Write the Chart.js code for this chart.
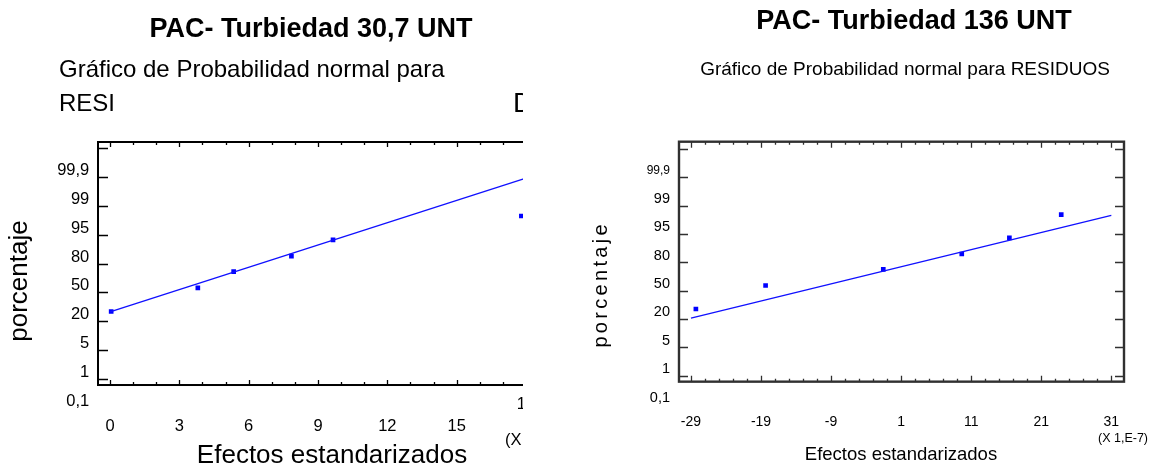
<!DOCTYPE html>
<html>
<head>
<meta charset="utf-8">
<script src="https://cdn.jsdelivr.net/npm/chart.js@4.4.1/dist/chart.umd.min.js"></script>
<style>
  html, body { margin: 0; padding: 0; background: #fff; }
  body { width: 1158px; height: 467px; position: relative; overflow: hidden; }
  #left-clip { position: absolute; left: 0; top: 0; width: 523px; height: 467px; overflow: hidden; }
  #left-box { position: absolute; left: 0; top: 0; width: 560px; height: 467px; }
  #right-box { position: absolute; left: 580px; top: 0; width: 578px; height: 467px; }
</style>
</head>
<body>
<div id="left-clip"><div id="left-box"><canvas id="left-chart"></canvas></div></div>
<div id="right-box"><canvas id="right-chart"></canvas></div>
<script>
// probability axis: the levels are evenly spaced, a position is the index in this list
const probLabels = ["0,1", "1", "5", "20", "50", "80", "95", "99", "99,9"];

// PAC- Turbiedad 30,7 UNT
const leftEffects = [0.05, 3.8, 5.35, 7.85, 9.65, 17.8];
const leftProb = [3.34, 4.16, 4.72, 5.26, 5.82, 6.65];
const leftFitX = [0, 18];
const leftFitY = [3.33, 7.96];
const leftXTicks = [0, 3, 6, 9, 12, 15, 18];

// PAC- Turbiedad 136 UNT (effects x 1,E-7)
const rightEffects = [-28.3, -18.35, -1.55, 9.65, 16.45, 23.85];
const rightProb = [3.35, 4.18, 4.75, 5.29, 5.86, 6.68];
const rightFitX = [-29, 31];
const rightFitY = [3.03, 6.65];
const rightXTicks = [-29, -19, -9, 1, 11, 21, 31];

const FONT = "'Liberation Sans', Arial, sans-serif";
Chart.defaults.font.family = FONT;
Chart.defaults.color = "#000";

function toPoints(xs, ys) {
  return xs.map((x, i) => ({ x: x, y: ys[i] }));
}

// statgraphics style box with inward ticks
function framePlugin(o) {
  return {
    id: "frame",
    afterDatasetsDraw(chart) {
      const { ctx, chartArea: a, scales: { x, y } } = chart;
      const bottom = y.getPixelForValue(o.bottom);
      ctx.save();
      ctx.strokeStyle = o.color;
      ctx.lineWidth = o.width;
      ctx.strokeRect(a.left, a.top, a.right - a.left, bottom - a.top);
      ctx.lineWidth = o.tickWidth;
      ctx.beginPath();
      for (let k = 1; k <= 9; k++) {
        const py = Math.round(y.getPixelForValue(k)) + 0.5;
        ctx.moveTo(a.left, py); ctx.lineTo(a.left + o.yTick, py);
        ctx.moveTo(a.right, py); ctx.lineTo(a.right - o.yTick, py);
      }
      const every = Math.round(o.xMajor / o.xStep);
      for (let i = 0; o.xFrom + i * o.xStep <= o.xTo + 1e-9; i++) {
        const px = Math.round(x.getPixelForValue(o.xFrom + i * o.xStep)) + 0.5;
        const len = i % every === 0 ? o.majorTick : o.minorTick;
        ctx.moveTo(px, a.top); ctx.lineTo(px, a.top + len);
        ctx.moveTo(px, bottom); ctx.lineTo(px, bottom - len);
      }
      ctx.stroke();
      ctx.restore();
    }
  };
}

function textPlugin(items) {
  return {
    id: "texts",
    afterDraw(chart) {
      const ctx = chart.ctx;
      items.forEach(t => {
        const px = t.xv !== undefined ? chart.scales.x.getPixelForValue(t.xv) : t.x;
        ctx.save();
        ctx.font = t.font;
        ctx.fillStyle = "#000";
        ctx.textBaseline = t.base || "alphabetic";
        ctx.translate(px, t.y);
        if (t.rot) ctx.rotate(t.rot);
        if (t.spacing) {
          const chars = t.text.split("");
          const widths = chars.map(c => ctx.measureText(c).width);
          const total = widths.reduce((s, w) => s + w, 0) + t.spacing * (chars.length - 1);
          let cx = -total / 2;
          ctx.textAlign = "left";
          chars.forEach((c, i) => { ctx.fillText(c, cx, 0); cx += widths[i] + t.spacing; });
        } else {
          ctx.textAlign = t.align || "center";
          ctx.fillText(t.text, 0, 0);
        }
        ctx.restore();
      });
    }
  };
}

function makeChart(id, cfg) {
  return new Chart(document.getElementById(id), {
    type: "scatter",
    data: {
      datasets: [
        {
          label: "ajuste",
          data: toPoints(cfg.fitX, cfg.fitY),
          showLine: true,
          borderColor: "#1010ff",
          borderWidth: 1.3,
          pointRadius: 0,
          fill: false
        },
        {
          label: "residuos",
          data: toPoints(cfg.xs, cfg.ys),
          pointStyle: "rect",
          pointRadius: 3.3,
          backgroundColor: "#0000ff",
          borderWidth: 0
        }
      ]
    },
    options: {
      responsive: true,
      maintainAspectRatio: false,
      animation: false,
      events: [],
      layout: { padding: { top: cfg.top, right: cfg.right, bottom: 0, left: 0 } },
      plugins: { legend: { display: false }, tooltip: { enabled: false } },
      scales: {
        x: {
          type: "linear",
          position: "bottom",
          min: cfg.xMin,
          max: cfg.xMax,
          afterBuildTicks: s => { s.ticks = cfg.xTicks.map(v => ({ value: v })); },
          afterFit: s => { s.height = cfg.xHeight; },
          grid: { display: false, drawTicks: false },
          border: { display: false },
          ticks: {
            autoSkip: false,
            maxRotation: 0,
            padding: cfg.xPad,
            font: { size: cfg.xFont },
            callback: v => (cfg.hideX && cfg.hideX.includes(v) ? "" : String(v))
          }
        },
        y: {
          type: "linear",
          position: "left",
          min: 0,
          max: cfg.yMax,
          afterBuildTicks: s => { s.ticks = probLabels.map((_, i) => ({ value: i })); },
          afterFit: s => { s.width = cfg.yWidth; },
          grid: { display: false, drawTicks: false },
          border: { display: false },
          ticks: {
            autoSkip: false,
            labelOffset: -6.5,
            padding: cfg.yPad,
            font: cfg.yFont,
            callback: v => probLabels[v]
          }
        }
      }
    },
    plugins: [framePlugin(cfg.frame), textPlugin(cfg.texts)]
  });
}

makeChart("left-chart", {
  xs: leftEffects, ys: leftProb, fitX: leftFitX, fitY: leftFitY,
  xTicks: leftXTicks, hideX: [18],
  xMin: -0.52, xMax: 18.52, yMax: 9.216,
  top: 142, right: 22, yWidth: 98, xHeight: 59.2,
  xPad: 8.3, xFont: 16.5, yPad: 8.7, yFont: { size: 16.5 },
  frame: { bottom: 0.79, color: "#000", width: 2, tickWidth: 1.3, yTick: 10,
           xFrom: 0, xTo: 18, xStep: 1, xMajor: 3, majorTick: 5, minorTick: 3 },
  texts: [
    { text: "PAC- Turbiedad 30,7 UNT", font: "bold 27px " + FONT, x: 311, y: 36.5 },
    { text: "Gráfico de Probabilidad normal para", font: "24px " + FONT, x: 59, y: 77, align: "left" },
    { text: "RESI", font: "24px " + FONT, x: 59, y: 111, align: "left" },
    { text: "D", font: "28px " + FONT, x: 513, y: 112, align: "left" },
    { text: "porcentaje", font: "26px " + FONT, x: 26.7, y: 281, rot: -Math.PI / 2 },
    { text: "Efectos estandarizados", font: "26px " + FONT, x: 332, y: 463 },
    { text: "18", font: "16.5px " + FONT, xv: 18, y: 404.3, base: "middle" },
    { text: "(X", font: "16.5px " + FONT, x: 505, y: 440, base: "middle", align: "left" }
  ]
});

makeChart("right-chart", {
  xs: rightEffects, ys: rightProb, fitX: rightFitX, fitY: rightFitY,
  xTicks: rightXTicks,
  xMin: -30.71, xMax: 32.81, yMax: 9.25,
  top: 141.7, right: 34, yWidth: 99, xHeight: 63,
  xPad: 9.5, xFont: 14, yPad: 9,
  yFont: c => ({ size: c.tick && c.tick.value === 8 ? 12 : 14.5 }),
  frame: { bottom: 0.788, color: "#303030", width: 2.4, tickWidth: 1.3, yTick: 9,
           xFrom: -29, xTo: 31, xStep: 2, xMajor: 10, majorTick: 6, minorTick: 3 },
  texts: [
    { text: "PAC- Turbiedad 136 UNT", font: "bold 27px " + FONT, x: 334, y: 29 },
    { text: "Gráfico de Probabilidad normal para RESIDUOS", font: "19px " + FONT, x: 325, y: 74.5 },
    { text: "porcentaje", font: "20px " + FONT, x: 26.7, y: 286, rot: -Math.PI / 2, spacing: 3.3 },
    { text: "Efectos estandarizados", font: "18.5px " + FONT, x: 321, y: 460 },
    { text: "(X 1,E-7)", font: "12.5px " + FONT, x: 543, y: 438.5, base: "middle" }
  ]
});
</script>
</body>
</html>
